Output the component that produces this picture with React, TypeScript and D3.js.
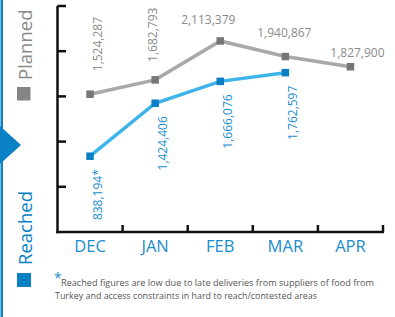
import React from "react";
import * as d3 from "d3";

const months = ["DEC", "JAN", "FEB", "MAR", "APR"];
const planned = [1524287, 1682793, 2113379, 1940867, 1827900];
const reached = [838194, 1424406, 1666076, 1762597];
const plannedLabels = ["1,524,287", "1,682,793", "2,113,379", "1,940,867", "1,827,900"];
const reachedLabels = ["838,194*", "1,424,406", "1,666,076", "1,762,597"];
const yTicks = [0, 500000, 1000000, 1500000, 2000000, 2500000];
const footnote1 = "Reached figures are low due to late deliveries from suppliers of food from";
const footnote2 = "Turkey and access constraints in hard to reach/contested areas";

// label layout (offsets relative to the point): vertical or horizontal
const plannedLayout = [
  { vertical: true, dx: 11.5, dy: -23 },
  { vertical: true, dx: 1.5, dy: -18 },
  { vertical: false, dx: -12, dy: -17 },
  { vertical: false, dx: -1, dy: -20 },
  { vertical: false, dx: 7, dy: -10 },
];

const W = 395;
const H = 317;
const FONT = "'Open Sans', sans-serif";
const GRAY_LINE = "#a9a9a9";
const GRAY_MARK = "#767676";
const GRAY_TEXT = "#8a8a8a";
const BLUE_LINE = "#3db5ea";
const BLUE_MARK = "#0b7fc4";
const BLUE_TEXT = "#1a8dd0";
const BLUE_DARK = "#0a80c5";

export default function App() {
  const x = d3.scaleBand<string>().domain(months).range([57.5, 383]);
  const y = d3.scaleLinear().domain([0, 2500000]).range([232, 6]);
  const cx = (m: string) => (x(m) as number) + x.bandwidth() / 2;

  const line = d3
    .line<number>()
    .x((_, i) => cx(months[i]))
    .y((v) => y(v));

  const ms = 7.5;

  return (
    <svg
      width={W}
      height={H}
      style={{ position: "absolute", left: 0, top: 0, background: "#fff" }}
      fontFamily={FONT}
    >
      {/* left decoration */}
      <rect x={0.5} y={0} width={2.5} height={H} fill={BLUE_DARK} />
      <polygon points="0,126 21,145 0,164" fill={BLUE_DARK} />

      {/* legend */}
      <text
        transform={`translate(32,80) rotate(-90)`}
        fontSize={18.5}
        fill={GRAY_TEXT}
      >
        Planned
      </text>
      <rect x={17} y={87} width={13.5} height={13.5} fill="#858585" />
      <text
        transform={`translate(32,265) rotate(-90)`}
        fontSize={18.5}
        fill={BLUE_DARK}
      >
        Reached
      </text>
      <rect x={17} y={273} width={14} height={14} fill={BLUE_DARK} />

      {/* axes */}
      <g stroke="#111" strokeWidth={2.5} fill="none">
        <line x1={57.5} x2={57.5} y1={y(2500000)} y2={y(0) + 1.25} />
        <line x1={56.25} x2={384} y1={y(0)} y2={y(0)} />
        {yTicks.slice(1).map((t) => (
          <line key={t} x1={57.5} x2={66} y1={y(t)} y2={y(t)} />
        ))}
        {months.map((m) => {
          const xe = (x(m) as number) + x.bandwidth();
          return <line key={m} x1={xe} x2={xe} y1={y(0)} y2={y(0) - 7} />;
        })}
      </g>

      {/* month labels */}
      {months.map((m) => (
        <text
          key={m}
          x={cx(m)}
          y={252}
          textAnchor="middle"
          fontSize={16.5}
          fill={BLUE_TEXT}
        >
          {m}
        </text>
      ))}

      {/* planned series */}
      <path d={line(planned) || ""} stroke={GRAY_LINE} strokeWidth={3.5} fill="none" />
      {planned.map((v, i) => (
        <rect
          key={i}
          x={cx(months[i]) - ms / 2}
          y={y(v) - ms / 2}
          width={ms}
          height={ms}
          fill={GRAY_MARK}
        />
      ))}
      {planned.map((v, i) => {
        const L = plannedLayout[i];
        const px = cx(months[i]) + L.dx;
        const py = y(v) + L.dy;
        return L.vertical ? (
          <text
            key={i}
            transform={`translate(${px},${py}) rotate(-90)`}
            fontSize={12}
            fill={GRAY_TEXT}
          >
            {plannedLabels[i]}
          </text>
        ) : (
          <text key={i} x={px} y={py} textAnchor="middle" fontSize={12} fill={GRAY_TEXT}>
            {plannedLabels[i]}
          </text>
        );
      })}

      {/* reached series */}
      <path d={line(reached) || ""} stroke={BLUE_LINE} strokeWidth={3.5} fill="none" />
      {reached.map((v, i) => (
        <rect
          key={i}
          x={cx(months[i]) - ms / 2}
          y={y(v) - ms / 2}
          width={ms}
          height={ms}
          fill={BLUE_MARK}
        />
      ))}
      {reached.map((v, i) => (
        <text
          key={i}
          transform={`translate(${cx(months[i]) + 11.5},${y(v) + 13}) rotate(-90)`}
          textAnchor="end"
          fontSize={12}
          fill={BLUE_TEXT}
        >
          {reachedLabels[i]}
        </text>
      ))}

      {/* footnote */}
      <text x={54} y={282.5} fontSize={14} fill={BLUE_TEXT}>
        *
      </text>
      <text
        x={61}
        y={286}
        fontSize={9.5}
        fill="#555"
        textLength={313}
        lengthAdjust="spacingAndGlyphs"
      >
        {footnote1}
      </text>
      <text
        x={55}
        y={299}
        fontSize={9.5}
        fill="#555"
        textLength={262}
        lengthAdjust="spacingAndGlyphs"
      >
        {footnote2}
      </text>
    </svg>
  );
}
